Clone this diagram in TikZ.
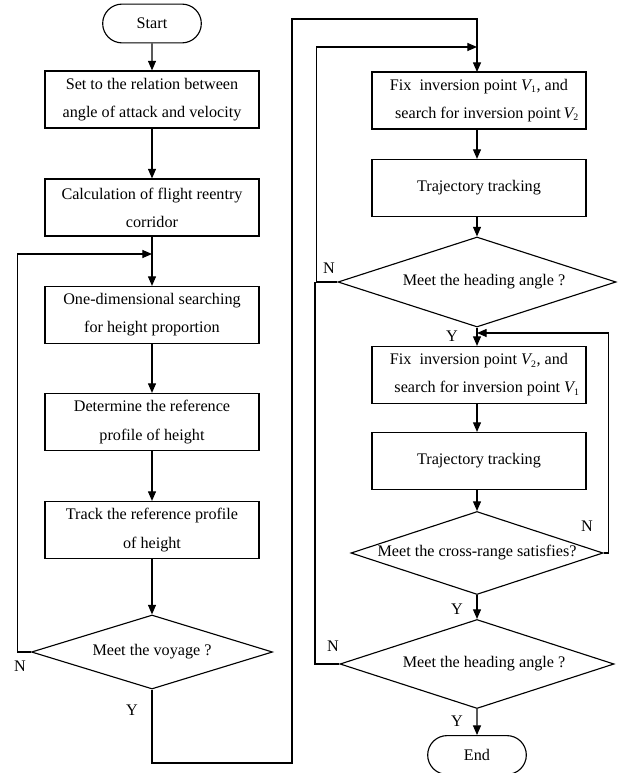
\documentclass[tikz,border=0pt]{standalone}
\usepackage{fontspec}
\setmainfont{Liberation Serif}
\usetikzlibrary{shapes,shapes.geometric,shapes.misc,arrows.meta}

\tikzset{
  proc/.style={draw, rectangle, minimum width=5.35cm, minimum height=1.425cm,
    align=center, inner sep=0pt},
  cond/.style={draw, diamond, inner sep=0pt},
  term/.style={draw, rounded rectangle, minimum width=2.7cm, minimum height=0.97cm},
  lbl/.style={inner sep=0pt}
}
\newcommand{\vsub}[1]{{\itshape V}\textsubscript{\scriptsize #1}}

\begin{document}
\begin{tikzpicture}[x=0.025cm, y=-0.025cm, thick, >={Triangle[length=2.4mm,width=2mm]},
    font=\fontsize{11.5}{20}\selectfont]
  \useasboundingbox (0,0) rectangle (628,773);
  % left column
  \node [term] (start) at (152, 23.5) {Start};
  \node [proc] (set)  at (152, 99.5) {Set to the relation between\\angle of attack and velocity};
  \node [proc] (calc) at (152,207.5) {Calculation of flight reentry\\corridor};
  \node [proc] (srch) at (152,315)   {One-dimensional searching\\for height proportion};
  \node [proc] (det)  at (152,422)   {Determine the reference\\profile of height};
  \node [proc] (trk)  at (152,530)   {Track the reference profile\\of height};
  \node [cond, minimum width=6.025cm, minimum height=1.85cm] (voy) at (152,652)
    {\makebox[0pt]{Meet the voyage ?}};
  \coordinate (j1) at (152,254);

  \draw [->] (start) -- (set);
  \draw [->] (set) -- (calc);
  \draw [->] (calc) -- (srch);
  \draw [->] (srch) -- (det);
  \draw [->] (det) -- (trk);
  \draw [->] (trk) -- (voy);
  \draw [->] (voy.west) -- ++(-13,0) |- (j1);
  \node [lbl] (n1) at (20,666) {N};
  \draw [->] (voy.south) |- (292,763) -- (292,19) -| (477,72);
  \node [lbl] (y1) at (132,710) {Y};

  % right column
  \node [proc] (fix1) at (479,100.5) {Fix\ \ inversion point \vsub{1}, and\\
    \hspace{1em}search for inversion point\,\vsub{2}};
  \node [proc] (tt1)  at (479,188)   {Trajectory tracking};
  \node [cond, minimum width=6.95cm, minimum height=2.25cm] (head1) at (477,282)
    {\makebox[0pt]{\hspace{10pt}Meet the heading angle ?}};
  \node [proc] (fix2) at (479,375)   {Fix\ \ inversion point \vsub{2}, and\\
    \hspace{1em}search for inversion point \vsub{1}};
  \node [proc] (tt2)  at (479,461)   {Trajectory tracking};
  \node [cond, minimum width=6.3cm, minimum height=2.075cm] (cross) at (477,553)
    {\makebox[0pt]{Meet the cross-range satisfies?}};
  \node [cond, minimum width=6.85cm, minimum height=2.225cm] (head2) at (477,664)
    {\makebox[0pt]{\hspace{10pt}Meet the heading angle ?}};
  \node [term] (end) at (477,755) {End};
  \coordinate (j2) at (477,47);
  \coordinate (j3) at (477,333);

  \draw [->] (fix1.south -| head1) -- (tt1.north -| head1);
  \draw [->] (tt1.south -| head1) -- (head1);
  \draw [->] (head1) -- (fix2.north -| head1);
  \draw [->] (fix2.south -| head1) -- (tt2.north -| head1);
  \draw [->] (tt2.south -| head1) -- (cross);
  \draw [->] (cross) -- (head2);
  \draw [->] (head2) -- (end);
  \draw [->] (head1.west) -- ++(-21,0) |- (j2);
  \draw (head2.west) -| (315,282);
  \draw [->] (cross.east) -- ++(5,0) |- (j3);
  \node [lbl] (n2) at (329,268) {N};
  \node [lbl] (y2) at (452,336) {Y};
  \node [lbl] (n3) at (587,526) {N};
  \node [lbl] (y3) at (457,609) {Y};
  \node [lbl] (n4) at (333,646) {N};
  \node [lbl] (y4) at (457,721) {Y};
\end{tikzpicture}
\end{document}
